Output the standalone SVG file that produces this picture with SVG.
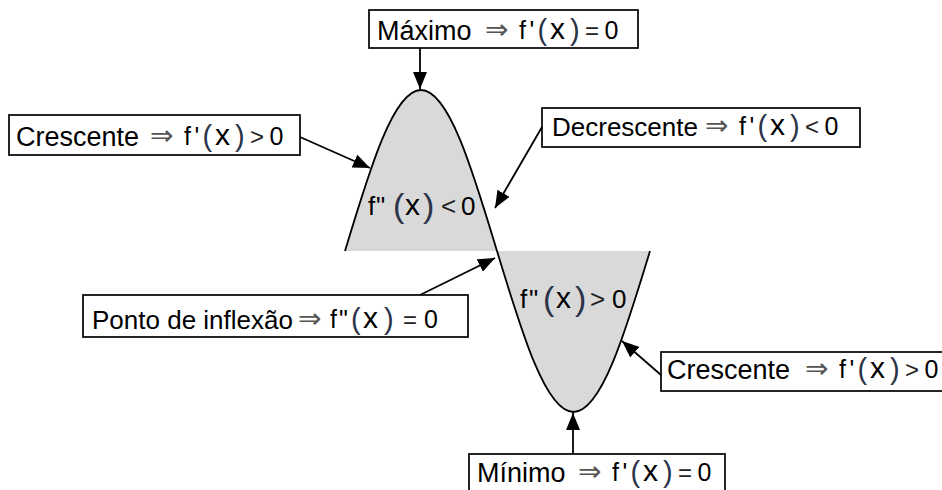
<svg xmlns="http://www.w3.org/2000/svg" width="942" height="490" viewBox="0 0 942 490">
<defs>
<style>
.box{fill:#fff;stroke:#000;stroke-width:1.7}
.t{font-family:"Liberation Sans",Arial,sans-serif;font-size:27px;fill:#000}
.m{font-family:"Liberation Sans",Arial,sans-serif;font-size:25px;fill:#000}
.mi{font-family:"Liberation Sans",Arial,sans-serif;font-size:26px;fill:#000}
.ar{font-family:"DejaVu Sans",sans-serif;font-size:28px;fill:#555}
.x{font-size:30px}
.p{font-size:29px;fill:#2a3348}
.pi{font-size:34px;fill:#2a3348}
.op{font-size:24px;fill:#222}
.opi{font-size:26px;fill:#222}
.c{fill:none;stroke:#000;stroke-width:1.8}
.fill{fill:#d9d9d9}
</style>
<marker id="ah" viewBox="0 0 17 14" refX="17" refY="7" markerWidth="17" markerHeight="14" markerUnits="userSpaceOnUse" orient="auto">
<path d="M0,0 L17,7 L0,14 z" fill="#000"/>
</marker>
</defs>

<g id="curve">
<path class="fill" d="M345,251 C369.8,168.5 393.5,90 421,90 C448.5,90 472.2,168.5 497,251 Z"/>
<path class="fill" d="M497,251 C522,333.5 545.8,412 573.5,412 C601.2,412 625,333.5 650,251 Z"/>
<path class="c" d="M345,251 C369.8,168.5 393.5,90 421,90 C448.5,90 472.2,168.5 497,251 C522,333.5 545.8,412 573.5,412 C601.2,412 625,333.5 650,251"/>
</g>

<g id="inner-upper">
<text class="mi" y="215"><tspan x="368">f</tspan><tspan x="376">"</tspan><tspan class="pi" x="393" dy="2">(</tspan><tspan class="x" x="405" dy="-2">x</tspan><tspan class="pi" x="423" dy="2">)</tspan><tspan class="opi" x="441" dy="-2">&lt;</tspan><tspan x="461">0</tspan></text>
</g>
<g id="inner-lower">
<text class="mi" y="308"><tspan x="520">f</tspan><tspan x="529">"</tspan><tspan class="pi" x="543" dy="2">(</tspan><tspan class="x" x="556" dy="-2">x</tspan><tspan class="pi" x="575" dy="2">)</tspan><tspan class="opi" x="590" dy="-2">&gt;</tspan><tspan x="612">0</tspan></text>
</g>

<g id="connectors">
<line class="c" x1="420" y1="48" x2="420" y2="89" marker-end="url(#ah)"/>
<line class="c" x1="300" y1="137" x2="370" y2="168" marker-end="url(#ah)"/>
<line class="c" x1="542" y1="127" x2="495" y2="208" marker-end="url(#ah)"/>
<line class="c" x1="420" y1="295" x2="495" y2="258" marker-end="url(#ah)"/>
<line class="c" x1="661" y1="375" x2="622" y2="341" marker-end="url(#ah)"/>
<line class="c" x1="573" y1="454" x2="573" y2="413" marker-end="url(#ah)"/>
</g>

<g id="maximo">
<rect class="box" x="369" y="10" width="269" height="38"/>
<text class="t" x="377" y="39.5">Máximo</text>
<text class="m" y="38.5"><tspan class="ar" x="485">⇒</tspan><tspan x="519">f</tspan><tspan x="529.5">'</tspan><tspan class="p" x="537.5" dy="1">(</tspan><tspan class="x" x="550" dy="-1">x</tspan><tspan class="p" x="570" dy="1">)</tspan><tspan class="op" x="585" dy="-1">=</tspan><tspan x="604.5">0</tspan></text>
</g>

<g id="crescente-left">
<rect class="box" x="9" y="115" width="291" height="40"/>
<text class="t" x="16" y="145.5">Crescente</text>
<text class="m" y="144.5"><tspan class="ar" x="150">⇒</tspan><tspan x="184">f</tspan><tspan x="194.5">'</tspan><tspan class="p" x="202.5" dy="1">(</tspan><tspan class="x" x="215" dy="-1">x</tspan><tspan class="p" x="235" dy="1">)</tspan><tspan class="op" x="250" dy="-1">&gt;</tspan><tspan x="269.5">0</tspan></text>
</g>

<g id="decrescente">
<rect class="box" x="542" y="108" width="318" height="39"/>
<text class="t" style="font-size:26px" x="552" y="135.5">Decrescente</text>
<text class="m" y="134.5"><tspan class="ar" x="705">⇒</tspan><tspan x="739">f</tspan><tspan x="749.5">'</tspan><tspan class="p" x="757.5" dy="1">(</tspan><tspan class="x" x="770" dy="-1">x</tspan><tspan class="p" x="790" dy="1">)</tspan><tspan class="op" x="805" dy="-1">&lt;</tspan><tspan x="824.5">0</tspan></text>
</g>

<g id="inflexao">
<rect class="box" x="83" y="295" width="385" height="42"/>
<text class="t" style="font-size:26px" x="92" y="329">Ponto de inflexão</text>
<text class="m" y="328"><tspan class="ar" x="298">⇒</tspan><tspan x="330">f</tspan><tspan x="339">"</tspan><tspan class="p" x="351" dy="1">(</tspan><tspan class="x" x="363" dy="-1">x</tspan><tspan class="p" x="384" dy="1">)</tspan><tspan class="op" x="403" dy="-1">=</tspan><tspan x="424">0</tspan></text>
</g>

<g id="crescente-right">
<rect class="box" x="661" y="352" width="290" height="39"/>
<text class="t" x="667" y="379">Crescente</text>
<text class="m" y="378"><tspan class="ar" x="805">⇒</tspan><tspan x="839">f</tspan><tspan x="849.5">'</tspan><tspan class="p" x="857.5" dy="1">(</tspan><tspan class="x" x="870" dy="-1">x</tspan><tspan class="p" x="890" dy="1">)</tspan><tspan class="op" x="905" dy="-1">&gt;</tspan><tspan x="924.5">0</tspan></text>
</g>

<g id="minimo">
<rect class="box" x="469" y="454" width="256" height="45"/>
<text class="t" x="477" y="482">Mínimo</text>
<text class="m" y="481"><tspan class="ar" x="578">⇒</tspan><tspan x="612">f</tspan><tspan x="622.5">'</tspan><tspan class="p" x="630.5" dy="1">(</tspan><tspan class="x" x="643" dy="-1">x</tspan><tspan class="p" x="663" dy="1">)</tspan><tspan class="op" x="678" dy="-1">=</tspan><tspan x="697.5">0</tspan></text>
</g>
</svg>
